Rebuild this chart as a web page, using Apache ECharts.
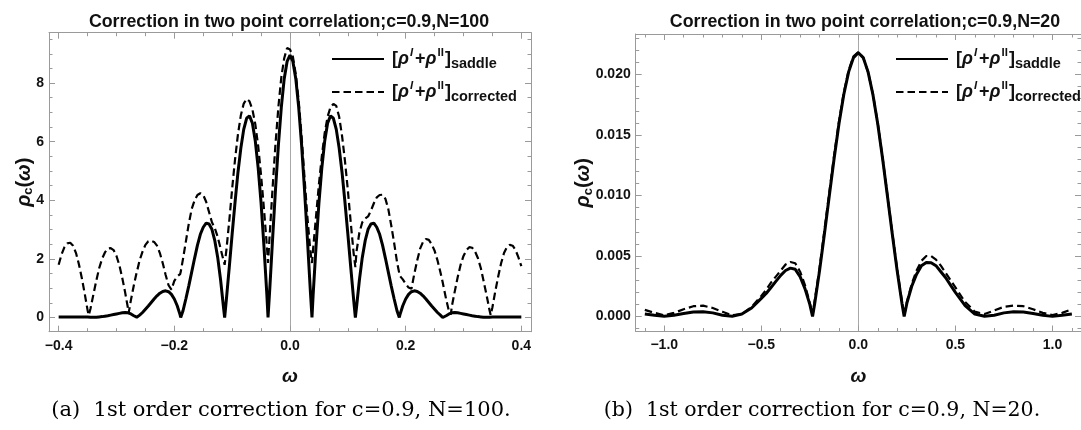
<!DOCTYPE html>
<html>
<head>
<meta charset="utf-8">
<script src="https://cdn.jsdelivr.net/npm/echarts@6/dist/echarts.min.js"></script>
<style>html,body{margin:0;padding:0;background:#fff}#c{width:1081px;height:430px}</style>
</head>
<body>
<div id="c"></div>
<script>
// ---------- Panel (a): c=0.9, N=100 ----------
const omegaA = [
-0.400,-0.395,-0.390,-0.385,-0.380,-0.375,-0.370,-0.365,-0.360,-0.355,
-0.350,-0.348,-0.345,-0.340,-0.335,-0.330,-0.325,-0.320,-0.315,-0.310,
-0.305,-0.300,-0.295,-0.290,-0.285,-0.280,-0.279,-0.275,-0.270,-0.265,
-0.264,-0.260,-0.255,-0.250,-0.245,-0.240,-0.235,-0.230,-0.225,-0.220,
-0.215,-0.210,-0.205,-0.200,-0.195,-0.190,-0.189,-0.185,-0.180,-0.175,
-0.170,-0.165,-0.160,-0.155,-0.150,-0.145,-0.140,-0.135,-0.130,-0.125,
-0.120,-0.115,-0.113,-0.110,-0.105,-0.100,-0.095,-0.090,-0.085,-0.080,
-0.075,-0.070,-0.065,-0.060,-0.055,-0.050,-0.045,-0.040,-0.038,-0.035,
-0.030,-0.025,-0.020,-0.015,-0.010,-0.005,
0,
0.005,0.010,0.015,0.020,0.025,0.030,0.035,0.038,0.040,0.045,
0.050,0.055,0.060,0.065,0.070,0.075,0.080,0.085,0.090,0.095,
0.100,0.105,0.110,0.113,0.115,0.120,0.125,0.130,0.135,0.140,
0.145,0.150,0.155,0.160,0.165,0.170,0.175,0.180,0.185,0.189,
0.190,0.195,0.200,0.205,0.210,0.215,0.220,0.225,0.230,0.235,
0.240,0.245,0.250,0.255,0.260,0.264,0.265,0.270,0.275,0.278,
0.280,0.285,0.290,0.295,0.300,0.305,0.310,0.315,0.320,0.325,
0.330,0.335,0.340,0.345,0.347,0.350,0.355,0.360,0.365,0.370,
0.375,0.380,0.385,0.390,0.395,0.400
];
const saddleA = [
0.02,0.02,0.02,0.02,0.02,0.02,0.02,0.02,0.02,0.02,
0.015,0.01,0.01,0.01,0.01,0.02,0.03,0.045,0.06,0.08,
0.10,0.12,0.14,0.16,0.17,0.16,0.155,0.12,0.06,0.01,
0,0.08,0.17,0.28,0.39,0.51,0.63,0.74,0.83,0.89,
0.91,0.88,0.79,0.63,0.40,0.09,0,0.23,0.64,1.08,
1.55,2.02,2.47,2.84,3.08,3.22,3.19,3.01,2.62,2.05,
1.28,0.35,0,0.62,1.72,2.85,3.94,4.95,5.78,6.42,
6.80,6.88,6.63,6.02,5.10,3.90,2.42,0.77,0,0.97,
2.72,4.39,5.90,7.18,8.15,8.74,
8.95,
8.74,8.15,7.18,5.90,4.39,2.72,0.97,0,0.77,2.42,
3.90,5.10,6.02,6.63,6.88,6.80,6.42,5.78,4.95,3.94,
2.85,1.72,0.62,0,0.35,1.28,2.05,2.62,3.01,3.19,
3.22,3.08,2.84,2.47,2.02,1.55,1.08,0.64,0.23,0,
0.09,0.40,0.63,0.79,0.88,0.91,0.89,0.83,0.74,0.63,
0.51,0.39,0.28,0.17,0.08,0,0.01,0.06,0.12,0.15,
0.16,0.17,0.16,0.14,0.12,0.10,0.08,0.06,0.045,0.03,
0.02,0.01,0.01,0.01,0.01,0.015,0.02,0.02,0.02,0.02,
0.02,0.02,0.02,0.02,0.02,0.02
];
const correctedA = [
1.80,2.15,2.40,2.53,2.55,2.45,2.20,1.82,1.35,0.82,
0.25,0.08,0.30,0.78,1.25,1.68,2.00,2.22,2.35,2.37,
2.30,2.10,1.78,1.35,0.85,0.30,0.15,0.60,1.10,1.55,
1.62,1.95,2.25,2.48,2.60,2.62,2.58,2.45,2.20,1.85,
1.45,1.10,0.95,1.25,1.40,1.48,1.55,2.00,2.60,3.20,
3.70,4.00,4.18,4.24,4.18,3.95,3.60,3.25,3.05,2.75,
2.35,1.95,1.80,2.30,3.30,4.40,5.40,6.25,6.90,7.30,
7.46,7.38,7.10,6.60,5.85,4.85,3.70,2.45,1.86,2.85,
4.45,5.95,7.20,8.20,8.85,9.20,
9.15,
8.90,8.30,7.40,6.20,4.80,3.45,2.30,1.86,2.35,3.45,
4.55,5.50,6.30,6.85,7.18,7.29,7.22,6.85,6.20,5.35,
4.35,3.25,2.20,1.72,2.25,2.90,3.25,3.38,3.45,3.65,
3.90,4.10,4.18,4.19,4.05,3.70,3.15,2.55,1.90,1.50,
1.42,1.30,1.15,1.02,0.98,1.50,1.95,2.35,2.58,2.68,
2.65,2.50,2.28,1.95,1.55,1.20,1.10,0.62,0.20,0.10,
0.40,0.90,1.38,1.80,2.10,2.30,2.40,2.38,2.25,2.02,
1.68,1.22,0.75,0.25,0.08,0.35,0.90,1.40,1.85,2.20,
2.40,2.48,2.45,2.30,2.05,1.75
];

// ---------- Panel (b): c=0.9, N=20 ----------
const omegaB = [
-1.10,-1.05,-1.00,-0.95,-0.90,-0.85,-0.80,-0.75,-0.70,-0.65,-0.60,-0.55,
-0.500,-0.475,-0.450,-0.425,-0.400,-0.375,-0.350,-0.325,-0.300,-0.275,-0.250,
-0.236,
-0.225,-0.200,-0.175,-0.150,-0.125,-0.100,-0.075,-0.050,-0.025,0,
0.025,0.050,0.075,0.100,0.125,0.150,0.175,0.200,0.225,
0.236,
0.250,0.275,0.300,0.325,0.350,0.375,0.400,0.425,0.450,0.475,0.500,
0.55,0.60,0.65,0.70,0.75,0.80,0.85,0.90,0.95,1.00,1.05,1.10
];
const saddleB = [
0.0002,0.0001,0.00002,0.0001,0.00025,0.00038,0.0004,0.0003,0.0001,0.00002,0.0002,0.0007,
0.0015,0.0019,0.0024,0.0029,0.0034,0.0038,0.0040,0.0039,0.0033,0.0023,0.0010,
0,
0.00106,0.00377,0.00680,0.00994,0.01304,0.01591,0.01835,0.02022,0.02140,0.02180,
0.02140,0.02022,0.01835,0.01591,0.01304,0.00994,0.00680,0.00377,0.00106,
0,
0.0011,0.0025,0.0035,0.0042,0.00447,0.00445,0.0042,0.0037,0.0032,0.0026,0.0020,
0.0009,0.0002,0.00002,0.0001,0.0003,0.0004,0.00038,0.00025,0.0001,0.00001,0.0001,0.0002
];
const correctedB = [
0.00055,0.0003,0.0001,0.0003,0.0006,0.00085,0.0009,0.0007,0.0004,0.0001,0.0002,0.0008,
0.0017,0.0022,0.0028,0.0033,0.0038,0.0043,0.0045,0.0044,0.0037,0.0026,0.0011,
0.0001,
0.0013,0.0040,0.0071,0.0102,0.0133,0.0161,0.0185,0.02035,0.0215,0.02185,
0.0214,0.0202,0.01838,0.01597,0.0131,0.0100,0.0069,0.0039,0.0012,
0.0001,
0.0012,0.0027,0.0038,0.0046,0.0050,0.0050,0.0047,0.0042,0.0036,0.0030,0.0024,
0.0012,0.0004,0.0002,0.0005,0.0008,0.0009,0.00085,0.0006,0.0003,0.00012,0.0003,0.0006
];

const titleA = 'Correction in two point correlation;c=0.9,N=100';
const titleB = 'Correction in two point correlation;c=0.9,N=20';
const captionA = '(a)  1st order correction for c=0.9, N=100.';
const captionB = '(b)  1st order correction for c=0.9, N=20.';
const seriesNames = ['saddle', 'corrected'];

// ---------- styling ----------
const SANS = 'Liberation Sans';
const FRAME = '#9a9a9a';
const TXT = '#111';

function fmt(v, d) {
  const s = Math.abs(v).toFixed(d);
  return (v < -1e-9 ? '\u2212' : '') + s;
}
function xAxisDef(gi, min, max, split, minor, pos, dec) {
  const bottom = pos === 'bottom';
  return {
    type: 'value', gridIndex: gi, position: pos, min: min, max: max, splitNumber: split,
    axisLine: {show: true, onZero: false, lineStyle: {color: FRAME, width: 1}},
    axisTick: {show: true, inside: true, length: 6, lineStyle: {color: FRAME, width: 1}},
    minorTick: {show: true, splitNumber: minor, length: 3.5, lineStyle: {color: FRAME, width: 1}},
    splitLine: {show: false}, minorSplitLine: {show: false},
    axisLabel: {show: bottom, showMinLabel: false, showMaxLabel: false, margin: 7,
      color: TXT, fontFamily: SANS, fontWeight: 'bold', fontSize: 14,
      formatter: v => fmt(v, dec)},
    name: bottom ? '\u03C9' : '', nameLocation: 'middle', nameGap: 36, nameMoveOverlap: false,
    nameTextStyle: {fontFamily: SANS, fontWeight: 'bold', fontStyle: 'italic', fontSize: 19, color: TXT}
  };
}
const yNameRich = {
  r: {fontFamily: SANS, fontWeight: 'bold', fontStyle: 'italic', fontSize: 20, color: TXT, lineHeight: 22},
  s: {fontFamily: SANS, fontWeight: 'bold', fontSize: 13, color: TXT, lineHeight: 22, verticalAlign: 'bottom'},
  m: {fontFamily: SANS, fontWeight: 'bold', fontSize: 20, color: TXT, lineHeight: 22},
  w: {fontFamily: SANS, fontWeight: 'bold', fontStyle: 'italic', fontSize: 20, color: TXT, lineHeight: 22}
};
function yAxisDef(gi, min, max, split, minor, pos, dec, gap) {
  const left = pos === 'left';
  return {
    type: 'value', gridIndex: gi, position: pos, min: min, max: max, splitNumber: split,
    axisLine: {show: true, onZero: false, lineStyle: {color: FRAME, width: 1}},
    axisTick: {show: true, inside: true, length: 6, lineStyle: {color: FRAME, width: 1}},
    minorTick: {show: true, splitNumber: minor, length: 3.5, lineStyle: {color: FRAME, width: 1}},
    splitLine: {show: false}, minorSplitLine: {show: false},
    axisLabel: {show: left, showMinLabel: false, showMaxLabel: false, margin: 5,
      color: TXT, fontFamily: SANS, fontWeight: 'bold', fontSize: 14,
      formatter: v => fmt(v, dec)},
    name: left ? '{r|\u03C1}{s|c}{m|(}{w|\u03C9}{m|)}' : '', nameLocation: 'middle', nameGap: gap,
    nameMoveOverlap: false,
    nameTextStyle: {rich: yNameRich}
  };
}
function zeroAxisDef(gi, min, max, xIdx) {
  return {
    type: 'value', gridIndex: gi, position: 'left', min: min, max: max,
    axisLine: {show: true, onZero: true, onZeroAxisIndex: xIdx, lineStyle: {color: '#a8a8a8', width: 1}},
    axisTick: {show: false}, minorTick: {show: false}, axisLabel: {show: false},
    splitLine: {show: false}
  };
}
const legRich = {
  b: {fontFamily: SANS, fontWeight: 'bold', fontSize: 18, color: TXT, lineHeight: 24},
  b0: {fontFamily: SANS, fontWeight: 'bold', fontSize: 18, color: TXT, lineHeight: 24, padding: [0, 0, 0, 3]},
  r: {fontFamily: SANS, fontWeight: 'bold', fontStyle: 'italic', fontSize: 18, color: TXT, lineHeight: 24},
  si: {fontFamily: SANS, fontWeight: 'bold', fontStyle: 'italic', fontSize: 11.5, color: TXT, lineHeight: 13, verticalAlign: 'top', padding: [0, 2, 0, 1]},
  su: {fontFamily: SANS, fontWeight: 'bold', fontSize: 11.5, color: TXT, lineHeight: 13, verticalAlign: 'top', padding: [0, 1, 0, 1]},
  sb: {fontFamily: SANS, fontWeight: 'bold', fontSize: 14.5, color: TXT, lineHeight: 14, verticalAlign: 'bottom'}
};
function legendText(name) {
  return '{b0|[}{r|\u03C1}{si|I}{b|+}{r|\u03C1}{su|II}{b|]}{sb|' + name + '}';
}
function legendDef(left, top) {
  return {
    orient: 'vertical', left: left, top: top, padding: 0,
    itemWidth: 52, itemHeight: 14, itemGap: 9, selectedMode: false,
    itemStyle: {opacity: 0, borderWidth: 0},
    data: [
      {name: seriesNames[0]},
      {name: seriesNames[1]}
    ],
    formatter: legendText,
    textStyle: {rich: legRich}
  };
}
function seriesDef(name, xi, yi, xs, ys, solid) {
  return {
    type: 'line', name: name, xAxisIndex: xi, yAxisIndex: yi,
    data: xs.map((w, i) => [w, ys[i]]),
    symbol: 'none', showSymbol: false, smooth: false, clip: true,
    lineStyle: solid ? {color: '#000', width: 3} : {color: '#000', width: 2.2, type: [7.5, 4]},
    itemStyle: {color: '#000'},
    z: solid ? 3 : 4,
    emphasis: {disabled: true}
  };
}

const chart = echarts.init(document.getElementById('c'), null, {renderer: 'canvas'});
chart.setOption({
  animation: false,
  backgroundColor: '#fff',
  textStyle: {fontFamily: SANS},
  title: [
    {text: titleA, left: 289, top: 13, textAlign: 'center', padding: 0,
     textStyle: {fontFamily: SANS, fontWeight: 'bold', fontSize: 17.8, color: TXT}},
    {text: titleB, left: 865, top: 13, textAlign: 'center', padding: 0,
     textStyle: {fontFamily: SANS, fontWeight: 'bold', fontSize: 17.8, color: TXT}},
    {text: captionA, left: 281, top: 400, textAlign: 'center', padding: 0,
     textStyle: {fontFamily: 'DejaVu Serif', fontWeight: 'normal', fontSize: 21, color: '#000'}},
    {text: captionB, left: 822, top: 400, textAlign: 'center', padding: 0,
     textStyle: {fontFamily: 'DejaVu Serif', fontWeight: 'normal', fontSize: 20.5, color: '#000'}}
  ],
  legend: [legendDef(331, 47), legendDef(895, 47)],
  grid: [
    {left: 49, top: 32.7, width: 482, height: 299, containLabel: false},
    {left: 635.7, top: 34, width: 455, height: 297.5, containLabel: false}
  ],
  xAxis: [
    xAxisDef(0, -0.4167, 0.4167, 4, 4, 'bottom', 1),
    xAxisDef(0, -0.4167, 0.4167, 4, 4, 'top', 1),
    xAxisDef(1, -1.147, 1.147, 5, 5, 'bottom', 1),
    xAxisDef(1, -1.147, 1.147, 5, 5, 'top', 1)
  ],
  yAxis: [
    yAxisDef(0, -0.485, 9.72, 5, 4, 'left', 0, 14),
    yAxisDef(0, -0.485, 9.72, 5, 4, 'right', 0, 14),
    zeroAxisDef(0, -0.485, 9.72, 0),
    yAxisDef(1, -0.00124, 0.02335, 5, 5, 'left', 3, 41),
    yAxisDef(1, -0.00124, 0.02335, 5, 5, 'right', 3, 41),
    zeroAxisDef(1, -0.00124, 0.02335, 2)
  ],
  series: [
    seriesDef(seriesNames[0], 0, 0, omegaA, saddleA, true),
    seriesDef(seriesNames[1], 0, 0, omegaA, correctedA, false),
    seriesDef(seriesNames[0], 2, 3, omegaB, saddleB, true),
    seriesDef(seriesNames[1], 2, 3, omegaB, correctedB, false)
  ]
});
</script>
</body>
</html>
